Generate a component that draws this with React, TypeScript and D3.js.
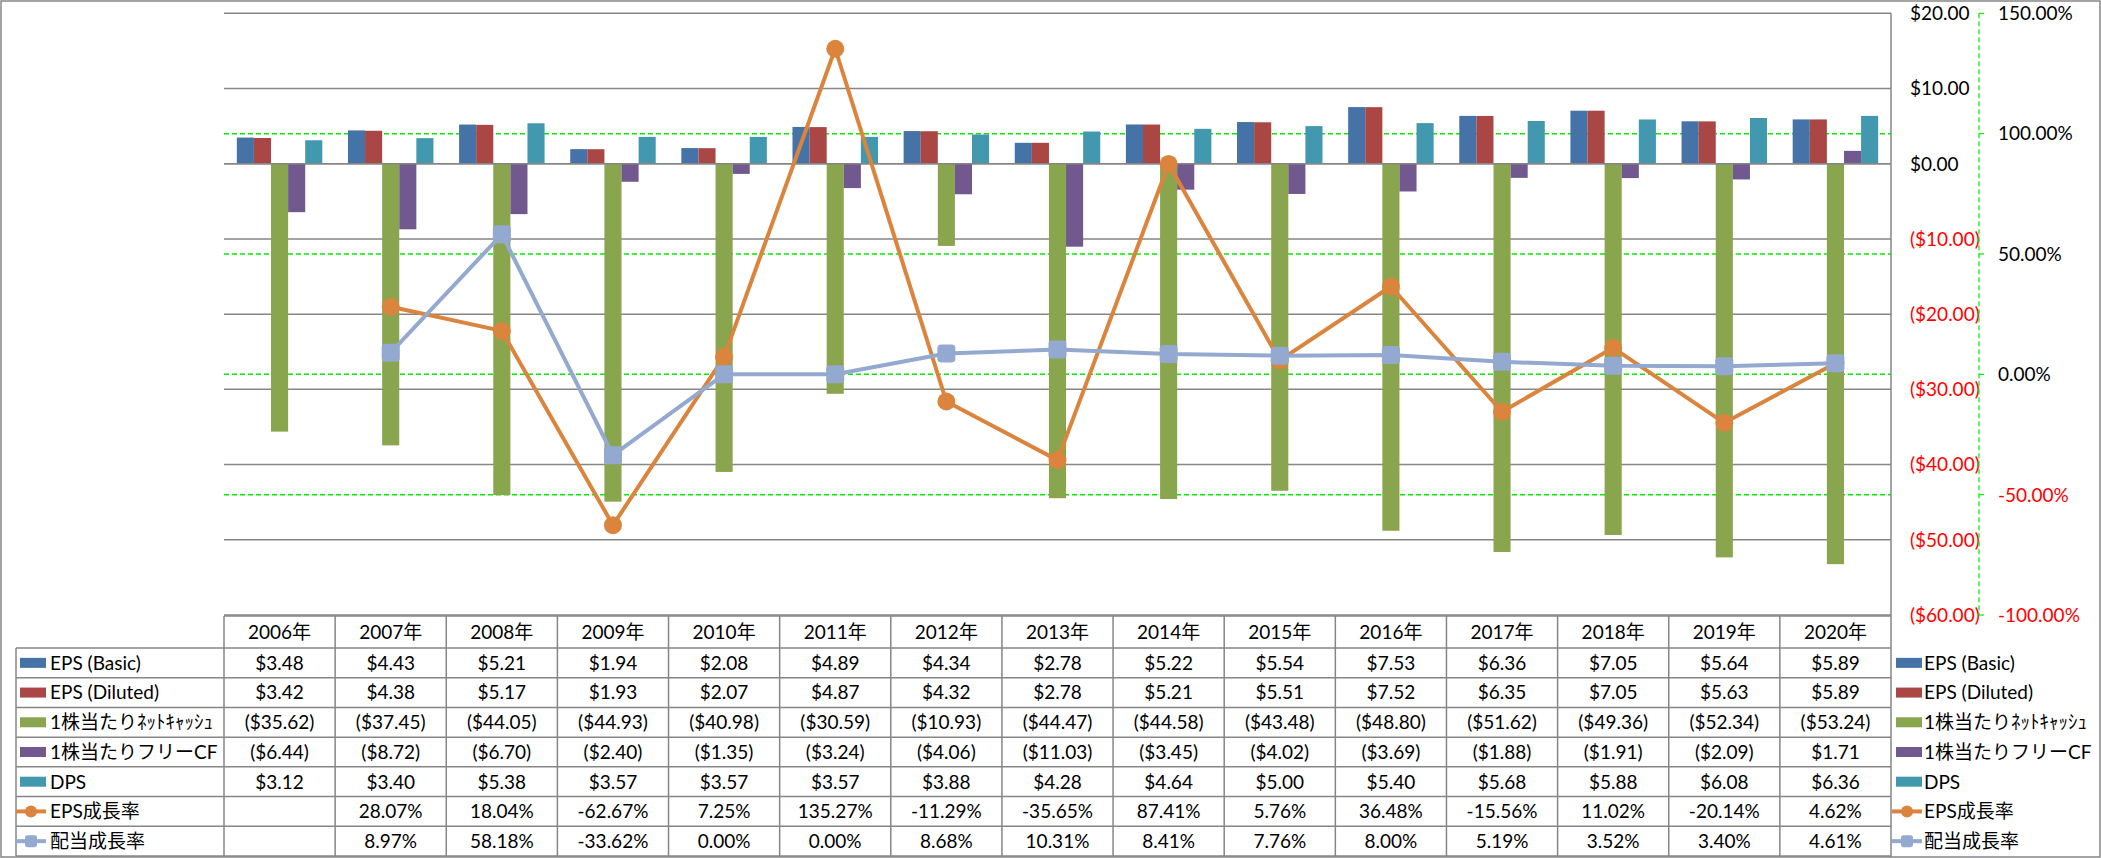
import React from "react";
import * as d3 from "d3";

const years = ["2006年","2007年","2008年","2009年","2010年","2011年","2012年","2013年","2014年","2015年","2016年","2017年","2018年","2019年","2020年"];
const epsBasic = [3.48,4.43,5.21,1.94,2.08,4.89,4.34,2.78,5.22,5.54,7.53,6.36,7.05,5.64,5.89];
const epsDiluted = [3.42,4.38,5.17,1.93,2.07,4.87,4.32,2.78,5.21,5.51,7.52,6.35,7.05,5.63,5.89];
const netCash = [-35.62,-37.45,-44.05,-44.93,-40.98,-30.59,-10.93,-44.47,-44.58,-43.48,-48.80,-51.62,-49.36,-52.34,-53.24];
const freeCF = [-6.44,-8.72,-6.70,-2.40,-1.35,-3.24,-4.06,-11.03,-3.45,-4.02,-3.69,-1.88,-1.91,-2.09,1.71];
const dps = [3.12,3.40,5.38,3.57,3.57,3.57,3.88,4.28,4.64,5.00,5.40,5.68,5.88,6.08,6.36];
const epsGrowth: (number|null)[] = [null,28.07,18.04,-62.67,7.25,135.27,-11.29,-35.65,87.41,5.76,36.48,-15.56,11.02,-20.14,4.62];
const divGrowth: (number|null)[] = [null,8.97,58.18,-33.62,0.00,0.00,8.68,10.31,8.41,7.76,8.00,5.19,3.52,3.40,4.61];
const primaryTicks = [20,10,0,-10,-20,-30,-40,-50,-60];
const secondaryTicks = [150,100,50,0,-50,-100];

const barSeries = [
  { name: "EPS (Basic)", values: epsBasic, color: "#4572A7" },
  { name: "EPS (Diluted)", values: epsDiluted, color: "#AA4643" },
  { name: "1株当たりﾈｯﾄｷｬｯｼｭ", values: netCash, color: "#89A54E" },
  { name: "1株当たりフリーCF", values: freeCF, color: "#71588F" },
  { name: "DPS", values: dps, color: "#4198AF" },
];
const lineSeries = [
  { name: "EPS成長率", values: epsGrowth, color: "#DB843D", marker: "circle" },
  { name: "配当成長率", values: divGrowth, color: "#93A9CF", marker: "square" },
];

const W = 2101, H = 858;
const X0 = 224, X1 = 1891;
const YT = 13.3, YB = 615;
const GRAY = "#868686";
const GREEN = "#00EE00";
const FONT = "Lato, 'Noto Sans CJK JP', sans-serif";
const FS = 19;

const fmtMoney = (v: number) => (v < 0 ? `($${Math.abs(v).toFixed(2)})` : `$${v.toFixed(2)}`);
const fmtPct = (v: number | null) => (v == null ? "" : `${v.toFixed(2)}%`);

export default function App() {
  const x = d3.scaleBand<string>().domain(years).range([X0, X1]).paddingInner(0).paddingOuter(0);
  const bw = x.bandwidth();
  const barW = bw / 6.5;
  const sub = d3.scaleBand<number>().domain(d3.range(5)).range([barW * 0.75, barW * 0.75 + barW * 5]).padding(0);
  const y = d3.scaleLinear().domain([-60, 20]).range([YB, YT]);
  const y2 = d3.scaleLinear().domain([-100, 150]).range([YB, YT]);

  const tableTop = 616, headerBottom = 648, tableBottom = 856;
  const rowH = (tableBottom - headerBottom) / 7;
  const rowCenter = (i: number) => headerBottom + rowH * (i + 0.5);

  const line = d3.line<number | null>()
    .defined((d) => d != null)
    .x((_, i) => (x(years[i]) as number) + bw / 2)
    .y((d) => y2(d as number));

  const renderMarker = (kind: string, cx: number, cy: number, color: string, size: number, key?: any) =>
    kind === "circle" ? (
      <circle key={key} cx={cx} cy={cy} r={size / 2} fill={color} />
    ) : (
      <rect key={key} x={cx - size / 2} y={cy - size / 2} width={size} height={size} rx={size * 0.2} fill={color} />
    );

  const legendSymbol = (i: number, x0: number, cy: number) => {
    if (i < 5) {
      return <rect x={x0 + 4} y={cy - 5} width={26} height={10} fill={barSeries[i].color} />;
    }
    const s = lineSeries[i - 5];
    return (
      <g>
        <line x1={x0} x2={x0 + 30} y1={cy} y2={cy} stroke={s.color} strokeWidth={4} />
        {renderMarker(s.marker, x0 + 15, cy, s.color, 12)}
      </g>
    );
  };

  const rowNames = [...barSeries.map((s) => s.name), ...lineSeries.map((s) => s.name)];
  const rowValues: string[][] = [
    ...barSeries.map((s) => s.values.map(fmtMoney)),
    ...lineSeries.map((s) => s.values.map(fmtPct)),
  ];

  return (
    <div style={{ position: "absolute", left: 0, top: 0 }}>
      <style>{`body{margin:0}`}</style>
      <svg width={W} height={H} style={{ display: "block", fontFamily: FONT }}>
        <rect x={0} y={0} width={W} height={H} fill="#fff" />
        <rect x={1} y={1} width={W - 2} height={H - 2} fill="none" stroke={GRAY} strokeWidth={1.5} />

        {primaryTicks.map((t) => (
          <line key={"g" + t} x1={X0} x2={X1} y1={y(t)} y2={y(t)} stroke={GRAY} strokeWidth={1.5} />
        ))}
        {secondaryTicks.filter((t) => t !== 150 && t !== -100).map((t) => (
          <line key={"s" + t} x1={X0} x2={X1} y1={y2(t)} y2={y2(t)} stroke={GREEN} strokeWidth={1.5} strokeDasharray="5,3" />
        ))}

        {barSeries.map((s, si) => (
          <g key={s.name}>
            {s.values.map((v, i) => (
              <rect
                key={i}
                x={(x(years[i]) as number) + (sub(si) as number)}
                width={sub.bandwidth()}
                y={Math.min(y(v), y(0))}
                height={Math.abs(y(v) - y(0))}
                fill={s.color}
              />
            ))}
          </g>
        ))}
        <line x1={X0} x2={X1} y1={y(0)} y2={y(0)} stroke={GRAY} strokeWidth={1.5} />

        {lineSeries.map((s) => (
          <g key={s.name}>
            <path d={line(s.values) || ""} fill="none" stroke={s.color} strokeWidth={4} strokeLinejoin="round" />
            {s.values.map((v, i) =>
              v == null ? null : renderMarker(s.marker, (x(years[i]) as number) + bw / 2, y2(v), s.color, 18, i)
            )}
          </g>
        ))}

        <line x1={X1} x2={X1} y1={YT} y2={tableBottom + 1} stroke={GRAY} strokeWidth={1.5} />

        {primaryTicks.map((t) => (
          <text key={"pl" + t} x={1910} y={y(t)} dy="0.36em" fontSize={FS} fill={t < 0 ? "#FF0000" : "#000"}>
            {fmtMoney(t)}
          </text>
        ))}

        <line x1={1979} x2={1979} y1={YT} y2={YB} stroke={GREEN} strokeWidth={1.2} strokeDasharray="5,3" />
        {secondaryTicks.map((t) => (
          <g key={"sl" + t}>
            <line x1={1979} x2={1984} y1={y2(t)} y2={y2(t)} stroke={GREEN} strokeWidth={1.2} />
            <text x={1998} y={y2(t)} dy="0.36em" fontSize={FS} fill={t < 0 ? "#FF0000" : "#000"}>
              {`${t.toFixed(2)}%`}
            </text>
          </g>
        ))}

        <line x1={X0} x2={X1} y1={tableTop} y2={tableTop} stroke={GRAY} strokeWidth={1.5} />
        {d3.range(8).map((r) => (
          <line key={"hr" + r} x1={16} x2={X1} y1={headerBottom + rowH * r} y2={headerBottom + rowH * r} stroke={GRAY} strokeWidth={1.5} />
        ))}
        <line x1={16} x2={16} y1={headerBottom} y2={tableBottom} stroke={GRAY} strokeWidth={1.5} />
        {years.map((yr) => (
          <line key={"vc" + yr} x1={x(yr) as number} x2={x(yr) as number} y1={tableTop} y2={tableBottom} stroke={GRAY} strokeWidth={1.5} />
        ))}
        {years.map((yr) => (
          <text key={"hd" + yr} x={(x(yr) as number) + bw / 2} y={(tableTop + headerBottom) / 2} dy="0.36em" textAnchor="middle" fontSize={FS}>
            {yr}
          </text>
        ))}
        {rowNames.map((n, r) => (
          <g key={"rn" + r}>
            {legendSymbol(r, 16, rowCenter(r))}
            <text x={50} y={rowCenter(r)} dy="0.36em" fontSize={FS}>{n}</text>
            {rowValues[r].map((v, i) => (
              <text key={i} x={(x(years[i]) as number) + bw / 2} y={rowCenter(r)} dy="0.36em" textAnchor="middle" fontSize={FS}>
                {v}
              </text>
            ))}
          </g>
        ))}

        {rowNames.map((n, r) => (
          <g key={"lg" + r}>
            {legendSymbol(r, 1892, rowCenter(r))}
            <text x={1924} y={rowCenter(r)} dy="0.36em" fontSize={FS}>{n}</text>
          </g>
        ))}
      </svg>
    </div>
  );
}
